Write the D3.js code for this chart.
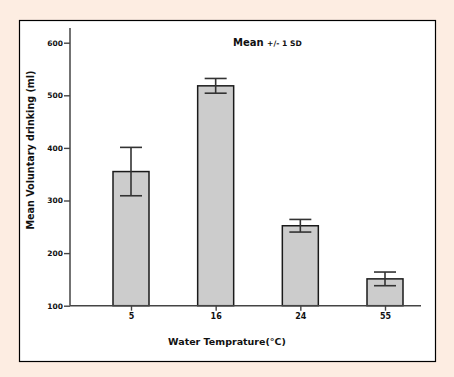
<!DOCTYPE html>
<html>
<head>
<meta charset="utf-8">
<script src="https://cdn.jsdelivr.net/npm/d3@7"></script>
<style>
  html, body { margin: 0; padding: 0; background: #fdede2; }
  text { font-family: "DejaVu Sans", sans-serif; font-weight: bold; fill: #111; }
</style>
</head>
<body>
<div id="chart"></div>
<script>
// data
const temperatures = ["5", "16", "24", "55"];
const meanDrinking = [355, 518, 252, 151];
const sdDrinking = [46, 14, 12, 13];
const yTicks = [100, 200, 300, 400, 500, 600];

const width = 454, height = 377;

const svg = d3.select("#chart")
    .append("svg")
    .attr("width", width)
    .attr("height", height);

// white panel with black frame
svg.append("rect")
    .attr("x", 19.5).attr("y", 20.5)
    .attr("width", 416).attr("height", 341)
    .attr("fill", "white")
    .attr("stroke", "#000")
    .attr("stroke-width", 1.2);

const x = d3.scalePoint()
    .domain(temperatures)
    .range([131, 385]);

const y = d3.scaleLinear()
    .domain([100, 600])
    .range([305.7, 42.7]);

const barWidth = 36;
const capWidth = 22;
const axisColor = "#444";

// bars
svg.selectAll(".bar")
    .data(temperatures)
    .enter().append("rect")
    .attr("class", "bar")
    .attr("x", d => x(d) - barWidth / 2)
    .attr("y", (d, i) => y(meanDrinking[i]))
    .attr("width", barWidth)
    .attr("height", (d, i) => y(100) - y(meanDrinking[i]))
    .attr("fill", "#cccccc")
    .attr("stroke", "#1a1a1a")
    .attr("stroke-width", 1.5);

// error bars
const err = svg.selectAll(".err")
    .data(temperatures)
    .enter().append("g")
    .attr("class", "err")
    .attr("stroke", "#333")
    .attr("stroke-width", 1.6);

err.append("line")
    .attr("x1", d => x(d)).attr("x2", d => x(d))
    .attr("y1", (d, i) => y(meanDrinking[i] + sdDrinking[i]))
    .attr("y2", (d, i) => y(meanDrinking[i] - sdDrinking[i]));

err.append("line")
    .attr("x1", d => x(d) - capWidth / 2).attr("x2", d => x(d) + capWidth / 2)
    .attr("y1", (d, i) => y(meanDrinking[i] + sdDrinking[i]))
    .attr("y2", (d, i) => y(meanDrinking[i] + sdDrinking[i]));

err.append("line")
    .attr("x1", d => x(d) - capWidth / 2).attr("x2", d => x(d) + capWidth / 2)
    .attr("y1", (d, i) => y(meanDrinking[i] - sdDrinking[i]))
    .attr("y2", (d, i) => y(meanDrinking[i] - sdDrinking[i]));

// y axis
const yAxis = svg.append("g")
    .attr("transform", "translate(70,0)")
    .call(d3.axisLeft(y).tickValues(yTicks).tickSize(6).tickPadding(1));
yAxis.select(".domain").remove();
yAxis.selectAll(".tick line").attr("stroke", axisColor).attr("stroke-width", 1.4);
yAxis.selectAll(".tick text").style("font-size", "7.5px").attr("fill", "#111");

svg.append("line")
    .attr("x1", 70).attr("x2", 70)
    .attr("y1", 28).attr("y2", y(100))
    .attr("stroke", axisColor).attr("stroke-width", 1.5);

// x axis
const xAxis = svg.append("g")
    .attr("transform", `translate(0,${y(100)})`)
    .call(d3.axisBottom(x).tickSize(5).tickPadding(3));
xAxis.select(".domain").remove();
xAxis.selectAll(".tick line").attr("stroke", axisColor).attr("stroke-width", 1.4);
xAxis.selectAll(".tick text").style("font-size", "8px").attr("fill", "#111");

svg.append("line")
    .attr("x1", 70).attr("x2", 421)
    .attr("y1", y(100)).attr("y2", y(100))
    .attr("stroke", axisColor).attr("stroke-width", 1.5);

// titles
svg.append("text")
    .attr("x", 227).attr("y", 345)
    .attr("text-anchor", "middle")
    .style("font-size", "9.5px")
    .text("Water Temprature(°C)");

svg.append("text")
    .attr("transform", "translate(34,150) rotate(-90)")
    .attr("text-anchor", "middle")
    .style("font-size", "9.6px")
    .text("Mean Voluntary drinking (ml)");

const title = svg.append("text")
    .attr("x", 233).attr("y", 46);
title.append("tspan").style("font-size", "10px").text("Mean ");
title.append("tspan").style("font-size", "7.6px").text("+/- 1 SD");
</script>
</body>
</html>
